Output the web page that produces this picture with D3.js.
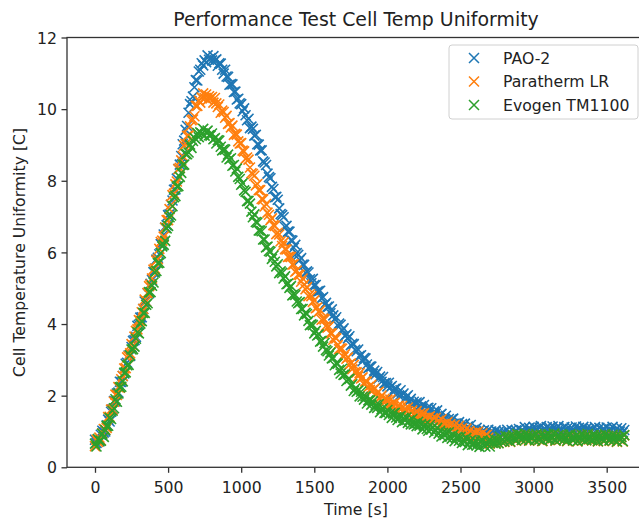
<!DOCTYPE html>
<html>
<head>
<meta charset="utf-8">
<script src="https://cdn.jsdelivr.net/npm/d3@7"></script>
<style>
  html, body { margin: 0; padding: 0; background: #fff; }
  svg { display: block; }
  text { font-family: "DejaVu Sans", sans-serif; fill: #222; }
</style>
</head>
<body>
<svg id="chart" width="639" height="521"></svg>
<script>
// ---------------- DATA ----------------
const times = [
  0,10,20,30,40,50,60,70,80,90,100,110,120,130,140,150,160,170,180,190,
  200,210,220,230,240,250,260,270,280,290,300,310,320,330,340,350,360,370,380,390,
  400,410,420,430,440,450,460,470,480,490,500,510,520,530,540,550,560,570,580,590,
  600,610,620,630,640,650,660,670,680,690,700,710,720,730,740,750,760,770,780,790,
  800,810,820,830,840,850,860,870,880,890,900,910,920,930,940,950,960,970,980,990,
  1000,1010,1020,1030,1040,1050,1060,1070,1080,1090,1100,1110,1120,1130,1140,1150,1160,1170,1180,1190,
  1200,1210,1220,1230,1240,1250,1260,1270,1280,1290,1300,1310,1320,1330,1340,1350,1360,1370,1380,1390,
  1400,1410,1420,1430,1440,1450,1460,1470,1480,1490,1500,1510,1520,1530,1540,1550,1560,1570,1580,1590,
  1600,1610,1620,1630,1640,1650,1660,1670,1680,1690,1700,1710,1720,1730,1740,1750,1760,1770,1780,1790,
  1800,1810,1820,1830,1840,1850,1860,1870,1880,1890,1900,1910,1920,1930,1940,1950,1960,1970,1980,1990,
  2000,2010,2020,2030,2040,2050,2060,2070,2080,2090,2100,2110,2120,2130,2140,2150,2160,2170,2180,2190,
  2200,2210,2220,2230,2240,2250,2260,2270,2280,2290,2300,2310,2320,2330,2340,2350,2360,2370,2380,2390,
  2400,2410,2420,2430,2440,2450,2460,2470,2480,2490,2500,2510,2520,2530,2540,2550,2560,2570,2580,2590,
  2600,2610,2620,2630,2640,2650,2660,2670,2680,2690,2700,2710,2720,2730,2740,2750,2760,2770,2780,2790,
  2800,2810,2820,2830,2840,2850,2860,2870,2880,2890,2900,2910,2920,2930,2940,2950,2960,2970,2980,2990,
  3000,3010,3020,3030,3040,3050,3060,3070,3080,3090,3100,3110,3120,3130,3140,3150,3160,3170,3180,3190,
  3200,3210,3220,3230,3240,3250,3260,3270,3280,3290,3300,3310,3320,3330,3340,3350,3360,3370,3380,3390,
  3400,3410,3420,3430,3440,3450,3460,3470,3480,3490,3500,3510,3520,3530,3540,3550,3560,3570,3580,3590,
  3600,3610,3620
];

const pao2 = [
  0.77,0.68,0.78,0.72,0.91,1.02,0.97,1.00,1.17,1.33,1.28,1.55,1.62,1.85,1.84,2.06,2.09,2.39,2.38,2.55,
  2.62,2.89,2.92,3.12,3.11,3.36,3.53,3.55,3.64,3.95,3.98,4.18,4.19,4.42,4.63,4.63,4.86,4.86,5.12,5.23,
  5.45,5.48,5.80,5.85,5.95,6.23,6.22,6.50,6.69,6.76,7.04,7.06,7.33,7.45,7.75,7.76,8.06,8.33,8.45,8.69,
  9.02,9.12,9.42,9.53,9.90,10.14,10.22,10.35,10.61,10.81,10.80,11.05,11.10,11.28,11.22,11.36,11.31,11.50,11.38,11.42,
  11.36,11.48,11.36,11.39,11.21,11.28,11.27,11.10,10.99,11.10,10.91,10.90,10.68,10.70,10.69,10.48,10.49,10.27,10.29,10.16,
  10.14,9.94,10.02,9.83,9.69,9.73,9.47,9.51,9.45,9.26,9.28,9.02,9.01,8.85,8.85,8.54,8.51,8.44,8.20,8.10,
  8.07,7.83,7.77,7.54,7.55,7.47,7.23,7.07,7.04,6.98,6.71,6.74,6.58,6.58,6.34,6.33,6.13,6.21,5.98,5.93,
  5.79,5.84,5.66,5.65,5.43,5.47,5.44,5.25,5.14,5.26,5.09,5.09,4.90,4.92,4.93,4.72,4.75,4.54,4.59,4.48,
  4.49,4.30,4.41,4.24,4.13,4.19,3.96,4.01,3.98,3.82,3.88,3.67,3.71,3.60,3.66,3.41,3.45,3.44,3.28,3.24,
  3.29,3.11,3.13,2.96,3.05,3.04,2.87,2.77,2.81,2.81,2.61,2.70,2.60,2.66,2.48,2.53,2.39,2.52,2.35,2.35,
  2.26,2.36,2.23,2.27,2.10,2.19,2.20,2.06,1.99,2.15,2.01,2.06,1.90,1.97,2.01,1.85,1.91,1.75,1.83,1.77,
  1.81,1.67,1.82,1.70,1.63,1.74,1.55,1.65,1.66,1.55,1.65,1.48,1.56,1.49,1.59,1.38,1.46,1.49,1.36,1.36,
  1.44,1.30,1.35,1.22,1.34,1.36,1.22,1.15,1.22,1.26,1.08,1.21,1.13,1.22,1.06,1.14,1.02,1.18,1.02,1.05,
  0.97,1.10,0.98,1.04,0.89,1.00,1.03,0.91,0.87,1.05,0.93,1.00,0.87,0.96,1.03,0.89,0.99,0.85,0.96,0.92,
  1.00,0.88,1.05,0.95,0.91,1.04,0.87,0.99,1.03,0.94,1.07,0.92,1.03,0.99,1.12,0.94,1.05,1.10,1.00,1.02,
  1.13,1.01,1.08,0.97,1.11,1.15,1.03,0.98,1.07,1.12,0.96,1.10,1.04,1.14,0.99,1.08,0.98,1.15,1.01,1.05,
  0.98,1.12,1.02,1.09,0.95,1.07,1.11,1.00,0.96,1.14,1.03,1.10,0.97,1.06,1.13,0.99,1.08,0.94,1.05,1.01,
  1.07,0.95,1.12,1.02,0.97,1.10,0.93,1.05,1.08,0.99,1.11,0.96,1.06,1.01,1.13,0.94,1.04,1.09,0.98,1.00,
  1.09,0.97,1.04
];

const paratherm = [
  0.59,0.77,0.71,0.83,0.75,0.95,1.07,1.05,1.10,1.40,1.41,1.61,1.61,1.83,2.03,2.02,2.24,2.22,2.46,2.55,
  2.76,2.77,3.07,3.10,3.18,3.44,3.40,3.65,3.81,3.85,4.11,4.09,4.33,4.42,4.68,4.63,4.87,5.06,5.10,5.27,
  5.52,5.55,5.77,5.81,6.10,6.29,6.33,6.44,6.69,6.90,6.90,7.21,7.33,7.60,7.64,7.90,7.98,8.32,8.36,8.57,
  8.69,8.98,9.03,9.25,9.26,9.52,9.69,9.71,9.80,10.09,10.09,10.24,10.18,10.32,10.44,10.31,10.41,10.26,10.36,10.30,
  10.34,10.18,10.31,10.16,10.06,10.13,9.90,9.96,9.92,9.76,9.81,9.59,9.61,9.49,9.54,9.28,9.31,9.29,9.10,9.04,
  9.05,8.84,8.82,8.61,8.65,8.59,8.37,8.21,8.19,8.14,7.87,7.91,7.74,7.74,7.49,7.48,7.28,7.35,7.11,7.05,
  6.90,6.95,6.76,6.74,6.51,6.55,6.50,6.31,6.18,6.28,6.09,6.08,5.87,5.88,5.87,5.66,5.67,5.46,5.49,5.38,
  5.37,5.18,5.27,5.10,4.97,5.03,4.78,4.83,4.78,4.62,4.66,4.44,4.46,4.34,4.38,4.12,4.15,4.13,3.95,3.90,
  3.93,3.74,3.74,3.56,3.63,3.60,3.41,3.30,3.32,3.31,3.08,3.16,3.03,3.07,2.87,2.90,2.74,2.86,2.66,2.65,
  2.54,2.63,2.48,2.51,2.32,2.40,2.39,2.24,2.16,2.30,2.15,2.19,2.02,2.08,2.11,1.94,2.00,1.83,1.91,1.85,
  1.89,1.75,1.89,1.77,1.69,1.80,1.61,1.71,1.72,1.61,1.71,1.55,1.63,1.57,1.67,1.47,1.55,1.59,1.47,1.48,
  1.57,1.43,1.49,1.36,1.49,1.51,1.38,1.31,1.39,1.42,1.25,1.37,1.30,1.38,1.23,1.30,1.19,1.34,1.19,1.21,
  1.14,1.26,1.15,1.20,1.05,1.15,1.18,1.05,1.00,1.16,1.04,1.09,0.95,1.02,1.08,0.92,1.01,0.86,0.96,0.91,
  0.97,0.84,1.00,0.89,0.83,0.95,0.77,0.89,0.91,0.82,0.66,0.74,0.69,0.79,0.67,0.76,0.68,0.84,0.72,0.77,
  0.71,0.86,0.77,0.84,0.71,0.83,0.88,0.77,0.74,0.92,0.82,0.89,0.76,0.85,0.92,0.78,0.88,0.74,0.85,0.81,
  0.87,0.75,0.92,0.82,0.77,0.90,0.73,0.85,0.88,0.79,0.91,0.76,0.86,0.81,0.93,0.74,0.84,0.89,0.78,0.80,
  0.89,0.77,0.84,0.73,0.87,0.91,0.79,0.74,0.83,0.88,0.72,0.86,0.80,0.90,0.76,0.85,0.75,0.92,0.78,0.82,
  0.75,0.89,0.79,0.86,0.72,0.84,0.88,0.77,0.73,0.91,0.80,0.87,0.74,0.83,0.90,0.76,0.85,0.71,0.82,0.78,
  0.84,0.72,0.89
];

const evogen = [
  0.66,0.58,0.79,0.74,0.74,0.94,0.85,1.04,1.15,1.16,1.38,1.35,1.58,1.65,1.90,1.83,2.06,2.23,2.25,2.40,
  2.64,2.65,2.85,2.86,3.13,3.29,3.30,3.37,3.59,3.77,3.74,4.01,4.08,4.31,4.31,4.54,4.58,4.89,4.89,5.07,
  5.16,5.44,5.48,5.70,5.71,5.98,6.17,6.21,6.32,6.67,6.74,6.98,7.03,7.29,7.54,7.57,7.84,7.85,8.11,8.22,
  8.44,8.45,8.74,8.74,8.79,9.01,8.92,9.11,9.20,9.16,9.33,9.22,9.35,9.32,9.45,9.26,9.36,9.40,9.27,9.26,
  9.32,9.16,9.19,9.04,9.13,9.12,8.95,8.85,8.88,8.87,8.65,8.73,8.60,8.63,8.42,8.44,8.26,8.34,8.11,8.05,
  7.89,7.93,7.73,7.69,7.43,7.44,7.36,7.14,6.98,7.06,6.85,6.83,6.61,6.61,6.59,6.36,6.36,6.14,6.16,6.04,
  6.02,5.82,5.91,5.74,5.61,5.67,5.42,5.47,5.43,5.27,5.33,5.11,5.13,5.01,5.06,4.80,4.83,4.81,4.63,4.58,
  4.61,4.42,4.42,4.24,4.31,4.28,4.09,3.97,3.99,3.97,3.74,3.81,3.68,3.71,3.51,3.53,3.37,3.47,3.27,3.24,
  3.12,3.20,3.04,3.05,2.85,2.91,2.89,2.72,2.62,2.75,2.58,2.59,2.41,2.45,2.47,2.28,2.32,2.13,2.20,2.11,
  2.14,1.98,2.11,1.97,1.89,1.98,1.78,1.87,1.87,1.75,1.84,1.66,1.74,1.66,1.76,1.54,1.62,1.65,1.52,1.52,
  1.60,1.46,1.51,1.38,1.50,1.52,1.39,1.32,1.40,1.43,1.26,1.38,1.31,1.39,1.24,1.31,1.20,1.35,1.20,1.22,
  1.15,1.27,1.16,1.21,1.06,1.16,1.19,1.07,1.02,1.18,1.06,1.11,0.97,1.04,1.10,0.94,1.02,0.86,0.96,0.90,
  0.96,0.82,0.98,0.86,0.80,0.91,0.73,0.83,0.85,0.74,0.85,0.68,0.77,0.71,0.82,0.62,0.71,0.75,0.63,0.64,
  0.74,0.61,0.68,0.57,0.71,0.75,0.63,0.58,0.68,0.73,0.58,0.73,0.68,0.79,0.66,0.76,0.67,0.85,0.72,0.77,
  0.72,0.87,0.78,0.85,0.72,0.84,0.89,0.78,0.75,0.93,0.83,0.90,0.77,0.86,0.93,0.79,0.89,0.75,0.86,0.82,
  0.88,0.76,0.93,0.83,0.78,0.91,0.74,0.86,0.89,0.80,0.92,0.77,0.87,0.82,0.94,0.75,0.85,0.90,0.79,0.81,
  0.90,0.78,0.85,0.74,0.88,0.92,0.80,0.75,0.84,0.89,0.73,0.87,0.81,0.91,0.77,0.86,0.76,0.93,0.79,0.83,
  0.76,0.90,0.80,0.87,0.73,0.85,0.89,0.78,0.74,0.92,0.81,0.88,0.75,0.84,0.91,0.77,0.86,0.72,0.83,0.79,
  0.85,0.73,0.90
];

const seriesNames = ["PAO-2", "Paratherm LR", "Evogen TM1100"];
const seriesColors = ["#1f77b4", "#ff7f0e", "#2ca02c"];
const xTicks = [0, 500, 1000, 1500, 2000, 2500, 3000, 3500];
const yTicks = [0, 2, 4, 6, 8, 10, 12];
const titleText = "Performance Test Cell Temp Uniformity";
const xLabelText = "Time [s]";
const yLabelText = "Cell Temperature Uniformity [C]";

// ---------------- LAYOUT ----------------
const plotL = 67, plotR = 645, plotT = 37.5, plotB = 467.3;
const tickFont = 15.7;

const svg = d3.select("#chart");
svg.append("rect").attr("width", 639).attr("height", 521).attr("fill", "#fff");

const x = d3.scaleLinear().domain([-191.5, 3762]).range([plotL, plotR]);
const y = d3.scaleLinear().domain([0, 12]).range([plotB, plotT]);

// markers
const ms = 5.0;
const xPath = `M${-ms},${-ms}L${ms},${ms}M${-ms},${ms}L${ms},${-ms}`;
const allSeries = [pao2, paratherm, evogen];

const plotG = svg.append("g");
allSeries.forEach((vals, i) => {
  plotG.append("g")
    .selectAll("path")
    .data(times.map((t, j) => [t, vals[j]]))
    .join("path")
    .attr("d", xPath)
    .attr("transform", d => `translate(${x(d[0])},${y(d[1])})`)
    .attr("stroke", seriesColors[i])
    .attr("stroke-width", 1.6)
    .attr("fill", "none");
});

// axes
const xAxis = svg.append("g")
  .attr("transform", `translate(0,${plotB})`)
  .call(d3.axisBottom(x).tickValues(xTicks).tickSize(5.5).tickFormat(d3.format("d")));
xAxis.select(".domain").remove();
xAxis.selectAll(".tick line").attr("stroke", "#333").attr("stroke-width", 1.3);
xAxis.selectAll(".tick text")
  .attr("y", 493 - plotB).attr("dy", 0)
  .attr("font-size", tickFont).attr("font-family", "DejaVu Sans").attr("fill", "#222");

const yAxis = svg.append("g")
  .attr("transform", `translate(${plotL},0)`)
  .call(d3.axisLeft(y).tickValues(yTicks).tickSize(5.5).tickPadding(4.5));
yAxis.select(".domain").remove();
yAxis.selectAll(".tick line").attr("stroke", "#333").attr("stroke-width", 1.3);
yAxis.selectAll(".tick text")
  .attr("dy", "0.36em")
  .attr("font-size", tickFont).attr("font-family", "DejaVu Sans").attr("fill", "#222");

// spines
svg.append("rect")
  .attr("x", plotL).attr("y", plotT)
  .attr("width", plotR - plotL).attr("height", plotB - plotT)
  .attr("fill", "none").attr("stroke", "#333").attr("stroke-width", 1.3);

// title and labels
svg.append("text").attr("x", (plotL + plotR) / 2).attr("y", 25.5)
  .attr("text-anchor", "middle").attr("font-size", 18.9).text(titleText);
svg.append("text").attr("x", (plotL + plotR) / 2).attr("y", 515)
  .attr("text-anchor", "middle").attr("font-size", tickFont).text(xLabelText);
svg.append("text")
  .attr("transform", `translate(24.5,${(plotT + plotB) / 2}) rotate(-90)`)
  .attr("text-anchor", "middle").attr("font-size", tickFont).text(yLabelText);

// legend
const lg = svg.append("g");
lg.append("rect").attr("x", 449).attr("y", 45).attr("width", 189).attr("height", 74)
  .attr("rx", 3).attr("fill", "#fff").attr("fill-opacity", 0.8)
  .attr("stroke", "#d0d0d0").attr("stroke-width", 1);
seriesNames.forEach((name, i) => {
  const cy = 58 + i * 23.5;
  lg.append("path").attr("d", xPath).attr("transform", `translate(474,${cy})`)
    .attr("stroke", seriesColors[i]).attr("stroke-width", 1.5).attr("fill", "none");
  lg.append("text").attr("x", 503).attr("y", cy).attr("dy", "0.36em")
    .attr("font-size", tickFont).text(name);
});
</script>
</body>
</html>
